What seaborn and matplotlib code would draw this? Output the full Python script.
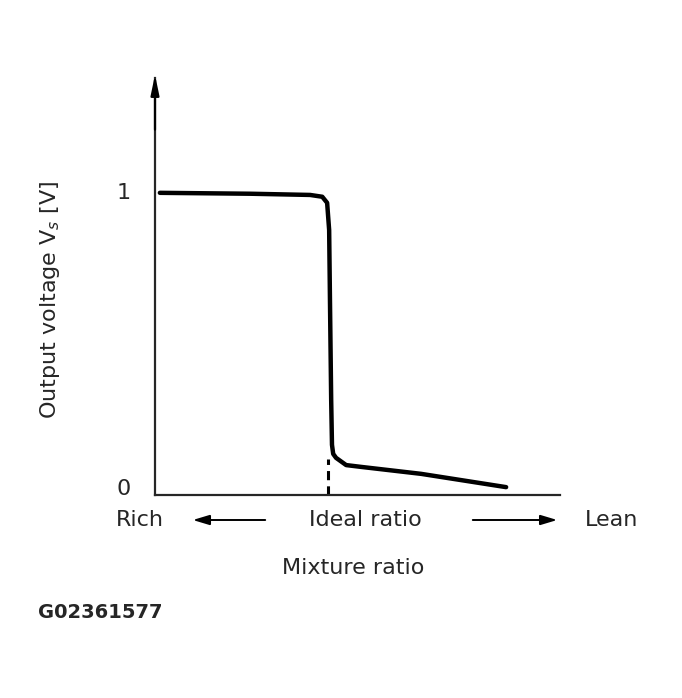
import matplotlib
matplotlib.use("Agg")
import matplotlib.pyplot as plt
import matplotlib.patches
import seaborn as sns
import numpy as np

sns.set_style("white")
plt.rcParams['font.family'] = ['DejaVu Sans']

# mixture ratio (relative, 0..1 along axis) and output voltage [V]
mix = [0.012, 0.235, 0.383, 0.413, 0.425, 0.430, 0.432, 0.435, 0.437, 0.440, 0.447, 0.472, 0.509, 0.657, 0.867]
volt = [1.0, 0.997, 0.993, 0.987, 0.967, 0.877, 0.646, 0.315, 0.166, 0.136, 0.123, 0.099, 0.093, 0.070, 0.026]
ideal = 0.427
ytick_vals = [0, 1]

W, H = 682, 698
fig = plt.figure(figsize=(W/100, H/100), dpi=100)
ax = fig.add_axes([155/W, 1-495/H, 405/W, (495-78)/H])
sns.lineplot(x=mix, y=volt, ax=ax, color='black', lw=3.2, solid_capstyle='round')
ax.plot([ideal, ideal], [0, 0.12], color='black', lw=2.2, ls=(0, (3, 2)))
ax.set_xlim(0, 1); ax.set_ylim(0, 1.38)
for s in ['top', 'right']:
    ax.spines[s].set_visible(False)
ax.spines['left'].set_linewidth(1.6); ax.spines['bottom'].set_linewidth(1.6)
ax.set_xticks([]); ax.set_yticks([])
ax.annotate('', xy=(0, 1.40), xytext=(0, 1.2), xycoords='data',
            arrowprops=dict(arrowstyle='-|>,head_width=0.25,head_length=1.2', color='black', lw=1.6),
            annotation_clip=False)
for v in ytick_vals:
    ax.text(-0.06, v + (0.02 if v == 0 else 0), str(v), ha='right', va='center', fontsize=16)

def ft(x, y, s, size=16, **kw):
    fig.text(x/W, 1-y/H, s, fontsize=size, **kw)

ft(50, 300, 'Output voltage V$_s$ [V]', rotation=90, ha='center', va='center')
ft(140, 520, 'Rich', ha='center', va='center')
ft(365, 520, 'Ideal ratio', ha='center', va='center')
ft(612, 520, 'Lean', ha='center', va='center')
ft(353, 568, 'Mixture ratio', ha='center', va='center')
ft(38, 612, 'G02361577', size=14, ha='left', va='center', fontweight='bold')
for x0, x1 in [(268, 190), (470, 560)]:
    fig.add_artist(matplotlib.patches.FancyArrowPatch((x0/W, 1-520/H), (x1/W, 1-520/H),
                   transform=fig.transFigure, arrowstyle='-|>,head_width=3,head_length=10',
                   color='black', lw=1.4))
fig.savefig('out.png', dpi=100, facecolor='white')
